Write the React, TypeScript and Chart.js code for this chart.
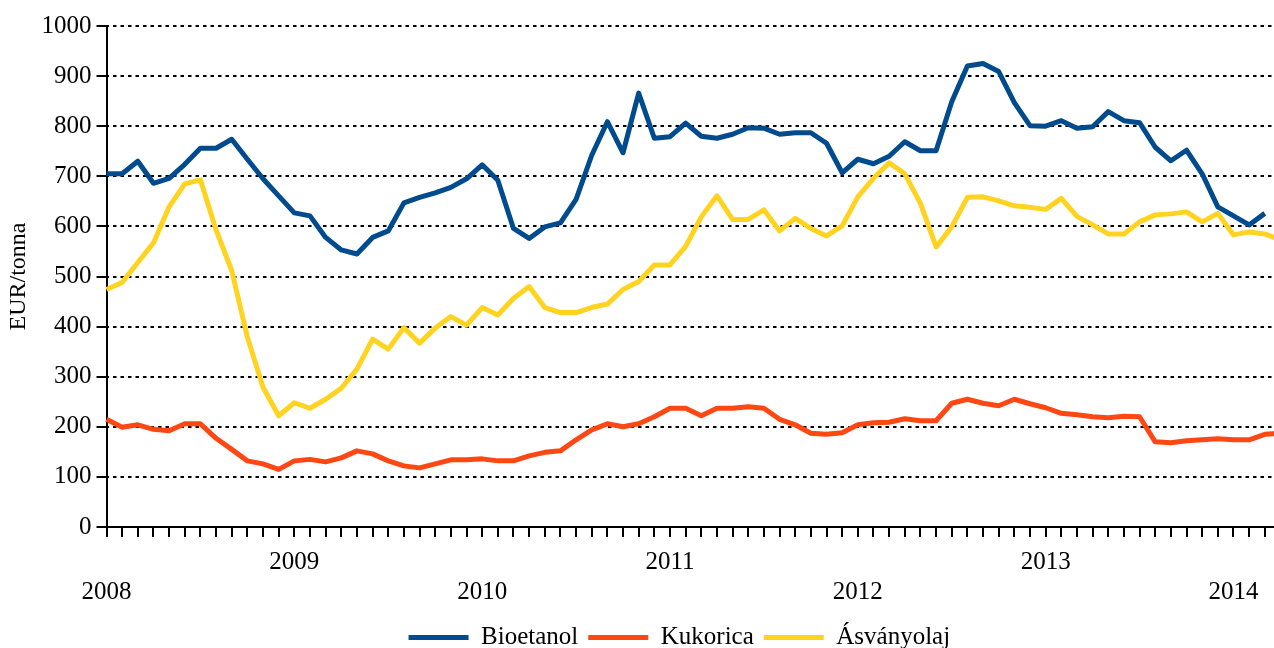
import React, { useEffect, useRef } from "react";
import { Chart, registerables } from "chart.js";

Chart.register(...registerables);

const YEARS = ["2008", "2009", "2010", "2011", "2012", "2013", "2014"];
const MONTHS = ["01", "02", "03", "04", "05", "06", "07", "08", "09", "10", "11", "12"];
const CATEGORIES = YEARS.flatMap((y) => MONTHS.map((m) => `${y}.${m}`)).slice(0, 81);

const BIOETANOL = [
  705, 705, 730, 686, 696, 724, 756, 756, 774, 734, 695, 661,
  627, 621, 578, 553, 545, 578, 591, 647, 658, 667, 678, 695,
  723, 692, 596, 576, 599, 607, 654, 742, 809, 747, 866, 776,
  779, 806, 780, 776, 784, 797, 796, 784, 787, 787, 766, 707,
  734, 725, 740, 769, 751, 751, 849, 920, 925, 909, 847, 801,
  800, 811, 796, 799, 829, 811, 807, 758, 731, 752, 705, 639,
  621, 603, 626,
];
const KUKORICA = [
  215, 199, 204, 195, 192, 206, 206, 177, 155, 132, 126, 115,
  132, 135, 130, 138, 152, 146, 132, 122, 118, 126, 134, 134,
  136, 132, 132, 142, 149, 152, 174, 194, 206, 200, 206, 220,
  237, 237, 222, 237, 237, 240, 237, 215, 204, 187, 185, 188,
  204, 208, 209, 216, 212, 212, 247, 255, 247, 242, 255, 246,
  238, 227, 224, 220, 218, 221, 220, 170, 168, 172, 174, 176,
  174, 174, 185, 187,
];
const ASVANYOLAJ = [
  474, 488, 528, 567, 639, 685, 693, 593, 512, 379, 279, 222,
  248, 237, 255, 277, 315, 375, 355, 398, 367, 397, 420, 403,
  438, 423, 456, 480, 438, 428, 428, 438, 445, 474, 490, 523,
  523, 560, 619, 661, 614, 614, 633, 591, 616, 596, 581, 601,
  659, 696, 727, 705, 646, 559, 599, 658, 659, 651, 641, 638,
  634, 656, 620, 603, 585, 585, 609, 623, 625, 629, 609, 626,
  583, 589, 585, 573,
];

const SERIES_NAMES = ["Bioetanol", "Kukorica", "Ásványolaj"];
const SERIES_COLORS = ["#004B8D", "#FF4714", "#FFD320"];
const Y_TITLE = "EUR/tonna";

const FONT = "'Liberation Serif', 'Times New Roman', serif";

export default function App() {
  const ref = useRef<HTMLCanvasElement | null>(null);

  useEffect(() => {
    if (!ref.current) return;
    const values = [BIOETANOL, KUKORICA, ASVANYOLAJ];
    const chart = new Chart(ref.current, {
      type: "line",
      data: {
        labels: CATEGORIES,
        datasets: values.map((d, i) => ({
          label: SERIES_NAMES[i],
          data: d,
          borderColor: SERIES_COLORS[i],
          backgroundColor: SERIES_COLORS[i],
          borderWidth: 5,
          pointRadius: 0,
          pointHoverRadius: 0,
          tension: 0,
          fill: false,
          borderJoinStyle: "round" as const,
          borderCapStyle: "butt" as const,
        })),
      },
      options: {
        responsive: false,
        animation: false,
        devicePixelRatio: 1,
        layout: { padding: { top: 26, left: 0, right: 11.3, bottom: 0 } },
        plugins: {
          tooltip: { enabled: false },
          legend: {
            position: "bottom",
            labels: {
              usePointStyle: true,
              pointStyle: "line",
              pointStyleWidth: 60,
              color: "#000",
              padding: 10,
              font: { family: FONT, size: 25 },
            },
          },
        },
        scales: {
          x: {
            type: "category",
            offset: false,
            afterFit: (s: any) => {
              s.height = 88;
            },
            grid: {
              display: true,
              drawOnChartArea: false,
              drawTicks: true,
              tickLength: 10,
              color: "#000",
              lineWidth: 2,
              offset: false,
            },
            border: { display: true, color: "#000", width: 2 },
            ticks: {
              autoSkip: false,
              maxRotation: 0,
              minRotation: 0,
              padding: 10,
              color: "#000",
              font: { family: FONT, size: 25, lineHeight: 1.2 },
              callback: function (this: any, value: any) {
                const label: string = this.getLabelForValue(value);
                if (label.endsWith(".01")) {
                  const y = label.slice(0, 4);
                  return YEARS.indexOf(y) % 2 === 0 ? ["", y] : y;
                }
                return "";
              },
            },
          },
          y: {
            min: 0,
            max: 1000,
            afterFit: (s: any) => {
              s.width = 106.5;
            },
            ticks: {
              stepSize: 100,
              padding: 5,
              color: "#000",
              font: { family: FONT, size: 25 },
              callback: (v: any) => String(v),
            },
            grid: {
              color: "#000",
              lineWidth: 2,
              tickLength: 10,
              drawTicks: true,
              borderDash: [3.5, 4],
              tickBorderDash: [],
            } as any,
            border: { display: true, color: "#000", width: 2, dash: [3.5, 4], dashOffset: -5 },
            title: {
              display: true,
              text: Y_TITLE,
              color: "#000",
              font: { family: FONT, size: 24, lineHeight: 1.2 },
              padding: { top: 4.6, bottom: 0 },
            },
          },
        },
      },
    });
    return () => chart.destroy();
  }, []);

  return (
    <div
      style={{
        position: "absolute",
        left: 0,
        top: 0,
        width: 1274,
        height: 648,
        overflow: "hidden",
        background: "#fff",
      }}
    >
      <canvas ref={ref} width={1370} height={660} style={{ width: 1370, height: 660, display: "block" }} />
    </div>
  );
}
